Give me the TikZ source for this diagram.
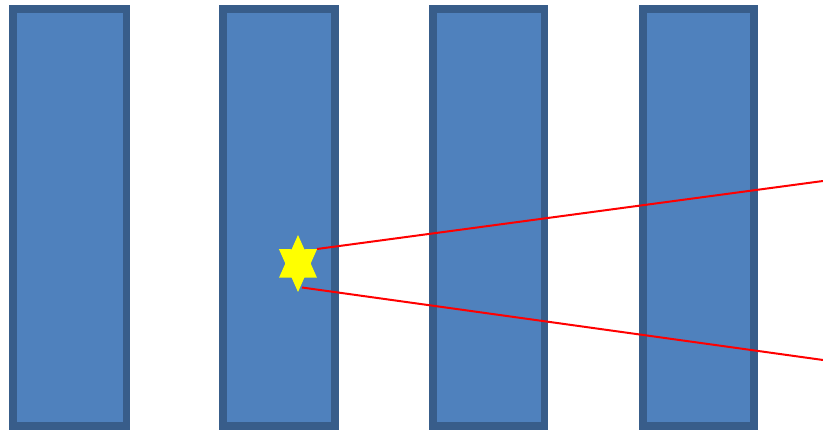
\documentclass[tikz,border=0pt]{standalone}
\definecolor{barfill}{HTML}{4F81BD}
\definecolor{barline}{HTML}{385D8A}
\definecolor{staryellow}{HTML}{FFFF00}
\tikzset{
  bar/.style={fill=barfill, draw=barline, line width=7.5pt},
  ray/.style={draw=red, line width=2pt},
  starshape/.style={fill=staryellow, draw=none}
}
\begin{document}
\begin{tikzpicture}[x=1pt,y=1pt]
\useasboundingbox (0,0) rectangle (823,431);
\fill[white] (0,0) rectangle (823,431);
% bars
\draw[bar] (13,5) rectangle (126.5,422);
\draw[bar] (223,5) rectangle (335,422);
\draw[bar] (433,5) rectangle (544.5,422);
\draw[bar] (643,5) rectangle (754,422);
% ray end points
\coordinate (s1) at (317,182);
\coordinate (s2) at (302,143.5);
\coordinate (e1) at (823,250);
\coordinate (e2) at (823,71);
\draw[ray] (s1) -- (e1);
\draw[ray] (s2) -- (e2);
% star
\begin{scope}[shift={(298,167.5)}, xscale=0.77]
\fill[starshape] (90:28.5) -- (60:16.45) -- (30:28.5) -- (0:16.45) -- (-30:28.5) -- (-60:16.45)
  -- (-90:28.5) -- (-120:16.45) -- (-150:28.5) -- (180:16.45) -- (150:28.5) -- (120:16.45) -- cycle;
\end{scope}
\end{tikzpicture}
\end{document}
